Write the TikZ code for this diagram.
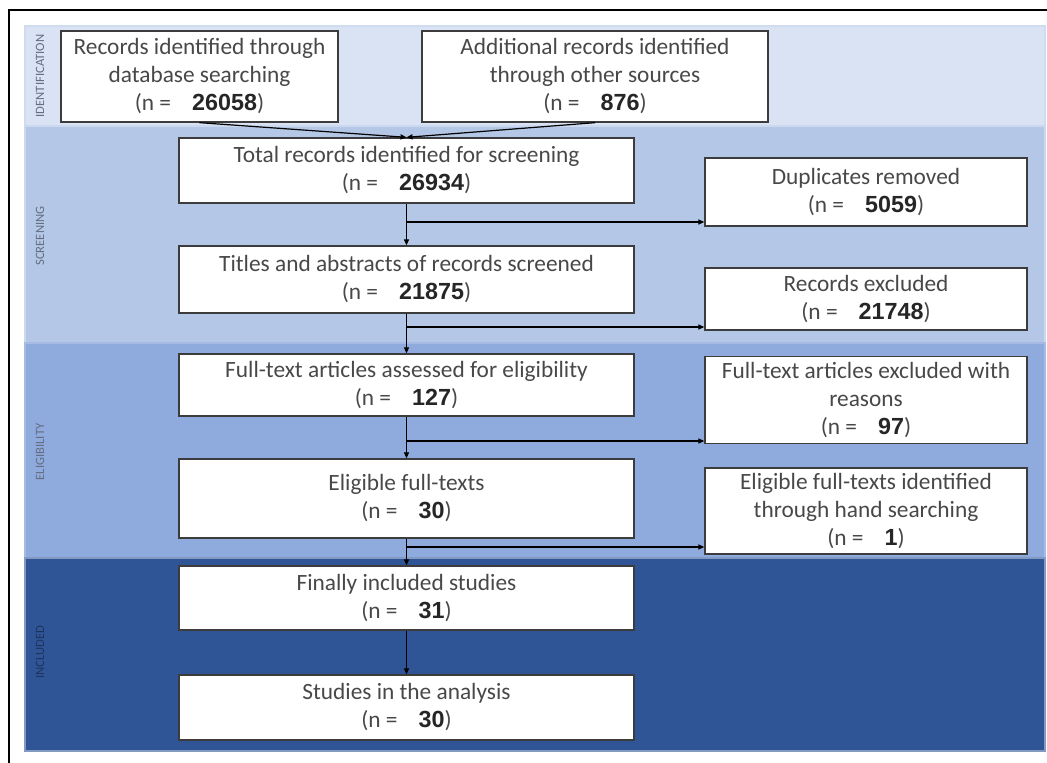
\documentclass[tikz,border=0pt]{standalone}
\usepackage{fontspec}
\setmainfont{Carlito}
\newfontfamily\numfont{Liberation Sans}
\usetikzlibrary{arrows.meta}
\definecolor{bandA}{RGB}{218,227,243}
\definecolor{bandB}{RGB}{180,199,231}
\definecolor{bandC}{RGB}{143,170,220}
\definecolor{bandD}{RGB}{47,85,151}
\definecolor{txtgray}{RGB}{72,72,72}
\definecolor{lblgray}{RGB}{100,110,130}
\definecolor{lblnavy}{RGB}{30,52,95}
\definecolor{boxline}{RGB}{60,60,60}
\newcommand\nb[1]{{\numfont\bfseries\color{black!85}#1}}
\newcommand\nn[1]{(n =\hspace{0.9em}\nb{#1})}
\begin{document}
\begin{tikzpicture}[x=0.75pt,y=-0.75pt,
  box/.style={draw=boxline,line width=1pt,fill=white,align=center,inner sep=0pt,
    text=txtgray,font=\fontsize{17.5}{21}\selectfont},
  lbl/.style={rotate=90,font=\fontsize{9.5}{10}\selectfont,text=lblgray},
  arr/.style={draw=black,line width=0.9pt,-{Triangle[length=4.5pt,width=3.8pt]}}]
\useasboundingbox (0,0) rectangle (1047,763);
% bands
\path[fill=bandA,draw=bandA!70!bandB,line width=1.2pt] (25,26) rectangle (1045,126);
\path[fill=bandB,draw=bandB!70!white,line width=1.2pt] (25,126) rectangle (1045,343);
\path[fill=bandC,draw=bandC!80!white,line width=1.2pt] (25,343) rectangle (1045,558);
\path[fill=bandD,draw=bandD!60!white,line width=1.2pt] (25,558) rectangle (1045,751);
% frame
\draw[line width=1.6pt] (9,763) -- (9,10) -- (1047,10);
% band labels
\node[lbl] (lid) at (40,76) {IDENTIFICATION};
\node[lbl] (lsc) at (40,236) {SCREENING};
\node[lbl] (lel) at (40,452) {ELIGIBILITY};
\node[lbl,text=lblnavy] (lin) at (40,652) {INCLUDED};
% boxes
\node[box,minimum width=207.75pt,minimum height=68.25pt] (b1) at (199.5,76.5)
  {Records identified through\\database searching\\\nn{26058}};
\node[box,minimum width=259.5pt,minimum height=68.25pt] (b2) at (595,76.5)
  {Additional records identified\\through other sources\\\nn{876}};
\node[box,minimum width=341.25pt,minimum height=48.75pt] (tot) at (406.5,170.5)
  {Total records identified for screening\\\nn{26934}};
\node[box,minimum width=241.5pt,minimum height=51pt] (dup) at (866,192)
  {Duplicates removed\\\nn{5059}};
\node[box,minimum width=341.25pt,minimum height=50.25pt] (tit) at (406.5,279.5)
  {Titles and abstracts of records screened\\\nn{21875}};
\node[box,minimum width=241.5pt,minimum height=46.5pt] (rex) at (866,299)
  {Records excluded\\\nn{21748}};
\node[box,minimum width=341.25pt,minimum height=46.5pt] (fta) at (406.5,385)
  {Full-text articles assessed for eligibility\\\nn{127}};
\node[box,minimum width=241.5pt,minimum height=65.25pt] (ftx) at (866,400)
  {Full-text articles excluded with\\reasons\\\nn{97}};
\node[box,minimum width=341.25pt,minimum height=59.25pt] (eli) at (406.5,498.5)
  {Eligible full-texts\\\nn{30}};
\node[box,minimum width=241.5pt,minimum height=64.5pt] (hand) at (866,511)
  {Eligible full-texts identified\\through hand searching\\\nn{1}};
\node[box,minimum width=341.25pt,minimum height=48pt] (fin) at (406.5,598)
  {Finally included studies\\\nn{31}};
\node[box,minimum width=341.25pt,minimum height=48.75pt] (stu) at (406.5,707.5)
  {Studies in the analysis\\\nn{30}};
% junctions
\coordinate (j1) at (406.5,222);
\coordinate (j2) at (406.5,327);
\coordinate (j3) at (406.5,441);
\coordinate (j4) at (406.5,547);
% connectors
\draw[arr] (b1.south) -- (tot.north);
\draw[arr] (b2.south) -- (tot.north);
\draw[arr] (tot.south) -- (tit.north);
\draw[arr] (j1) -- (j1 -| dup.west);
\draw[arr] (tit.south) -- (fta.north);
\draw[arr] (j2) -- (j2 -| rex.west);
\draw[arr] (fta.south) -- (eli.north);
\draw[arr] (j3) -- (j3 -| ftx.west);
\draw[arr] (eli.south) -- (fin.north);
\draw[arr] (j4) -- (j4 -| hand.west);
\draw[arr] (fin.south) -- (stu.north);
\end{tikzpicture}
\end{document}
